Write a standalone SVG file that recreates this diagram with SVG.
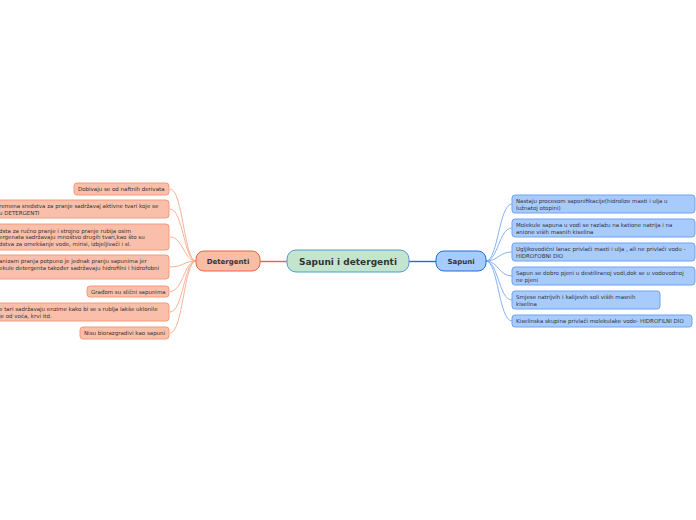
<svg xmlns="http://www.w3.org/2000/svg" width="696" height="520" viewBox="0 0 696 520">
<style>
text{font-family:"DejaVu Sans",Verdana,sans-serif;fill:#333}
.l rect{fill:#f9bfaa;stroke:#f59a78;stroke-width:1}
.r rect{fill:#a8cbfd;stroke:#6ea3ef;stroke-width:1}
.t{font-size:5.5px}
.lc{fill:none;stroke:#f8a98c;stroke-width:0.9}
.rc{fill:none;stroke:#79aaf2;stroke-width:0.9}
</style>
<rect width="696" height="520" fill="#fff"/>
<g id="connectors">
<path d="M287 261.5H260" stroke="#f0643a" stroke-width="1.4" fill="none"/>
<path d="M409 261.5H436" stroke="#1f6fd6" stroke-width="1.4" fill="none"/>
<path class="lc" d="M196 261C184 261 183 189 170 189"/>
<path class="lc" d="M196 261C184 261 183 209 170 209"/>
<path class="lc" d="M196 261C184 261 183 237 170 237"/>
<path class="lc" d="M196 261C184 261 183 267 170 267"/>
<path class="lc" d="M196 261C184 261 183 291.5 170 291.5"/>
<path class="lc" d="M196 261C184 261 183 312 170 312"/>
<path class="lc" d="M196 261C184 261 183 333 170 333"/>
<path class="rc" d="M486 261C498 261 499 204 512 204"/>
<path class="rc" d="M486 261C498 261 499 228 512 228"/>
<path class="rc" d="M486 261C498 261 499 252 512 252"/>
<path class="rc" d="M486 261C498 261 499 276 512 276"/>
<path class="rc" d="M486 261C498 261 499 300 512 300"/>
<path class="rc" d="M486 261C498 261 499 321 512 321"/>
</g>
<g id="center">
<rect x="287" y="250" width="122" height="22" rx="9" fill="#c4e5cd" stroke="#4a9bd6" stroke-width="1"/>
<text x="348" y="264.5" text-anchor="middle" font-size="9" font-weight="bold">Sapuni i detergenti</text>
</g>
<g id="detergenti">
<rect x="196" y="251" width="64" height="20" rx="8" fill="#f9bca6" stroke="#f0643a" stroke-width="1"/>
<text x="228" y="264" text-anchor="middle" font-size="7" font-weight="bold">Detergenti</text>
</g>
<g id="sapuni">
<rect x="436" y="251" width="50" height="20" rx="8" fill="#a6cbff" stroke="#1f6fd6" stroke-width="1"/>
<text x="461" y="264" text-anchor="middle" font-size="7" font-weight="bold">Sapuni</text>
</g>
<g id="d1" class="l"><rect x="74" y="183" width="95" height="12" rx="3"/><text class="t" x="78" y="191">Dobivaju se od naftnih derivata</text></g>
<g id="d2" class="l"><rect x="-10" y="200" width="179" height="18" rx="3"/><text class="t" x="-1" y="208">remena sredstva za pranje sadržavaj aktivne tvari koje se</text><text class="t" x="-1" y="214.5">u DETERGENTI</text></g>
<g id="d3" class="l"><rect x="-10" y="224" width="179" height="26" rx="3"/><text class="t" x="-1" y="232.5">dsta za ručno pranje i strojno pranje rubija osim</text><text class="t" x="-1" y="239">ergenata sadržavaju mnoštvo drugih tvari,kao što su</text><text class="t" x="-1" y="245.5">dstva za omekšanje vode, mirisi, izbjeljivači i sl.</text></g>
<g id="d4" class="l"><rect x="-10" y="255" width="179" height="24" rx="3"/><text class="t" x="-1" y="263">anizam pranja potpuno je jednak pranju sapunima jer</text><text class="t" x="-1" y="269.5">ekule detergenta također sadržavaju hidrofilni i hidrofobni</text></g>
<g id="d5" class="l"><rect x="87" y="286" width="82" height="11" rx="3"/><text class="t" x="91" y="293.5">Građom su slični sapunima</text></g>
<g id="d6" class="l"><rect x="-10" y="303" width="179" height="18" rx="3"/><text class="t" x="-1" y="311">e tari sadržavaju enzime kako bi se s rublja lakše uklonile</text><text class="t" x="-1" y="317.5">je od voća, krvi itd.</text></g>
<g id="d7" class="l"><rect x="80" y="327" width="89" height="12" rx="3"/><text class="t" x="84" y="335">Nisu biorazgradivi kao sapuni</text></g>
<g id="s1" class="r"><rect x="512" y="195" width="183" height="18" rx="3"/><text class="t" x="516" y="203">Nastaju procesom saponifikacije(hidrolize masti i ulja u</text><text class="t" x="516" y="209.5">lužnatoj otopini)</text></g>
<g id="s2" class="r"><rect x="512" y="219" width="183" height="18" rx="3"/><text class="t" x="516" y="227">Molekule sapuna u vodi se razlažu na katione natrija i na</text><text class="t" x="516" y="233.5">anione viših masnih kiselina</text></g>
<g id="s3" class="r"><rect x="512" y="243" width="183" height="18" rx="3"/><text class="t" x="516" y="251">Ugljikovodični lanac privlači masti i ulja , ali ne privlači vodu -</text><text class="t" x="516" y="257.5">HIDROFOBNI DIO</text></g>
<g id="s4" class="r"><rect x="512" y="267" width="183" height="18" rx="3"/><text class="t" x="516" y="275">Sapun se dobro pjeni u destiliranoj vodi,dok se u vodovodnoj</text><text class="t" x="516" y="281.5">ne pjeni</text></g>
<g id="s5" class="r"><rect x="512" y="291" width="148" height="18" rx="3"/><text class="t" x="516" y="299">Smjese natrijvih i kalijevih soli viših masnih</text><text class="t" x="516" y="305.5">kiselina</text></g>
<g id="s6" class="r"><rect x="512" y="315" width="180" height="12" rx="3"/><text class="t" x="516" y="323">Kiselinska skupina privlači molekulake vode- HIDROFILNI DIO</text></g>
</svg>
